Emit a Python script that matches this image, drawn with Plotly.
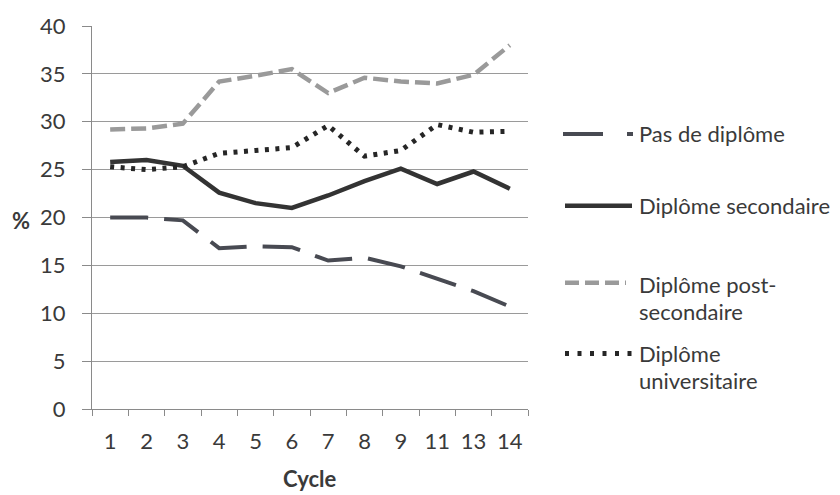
import plotly.graph_objects as go

cycles = ["1", "2", "3", "4", "5", "6", "7", "8", "9", "11", "13", "14"]
pas_de_diplome = [20.0, 20.0, 19.7, 16.8, 17.0, 16.9, 15.5, 15.8, 14.9, 13.6, 12.3, 10.7]
diplome_secondaire = [25.8, 26.0, 25.4, 22.6, 21.5, 21.0, 22.3, 23.8, 25.1, 23.5, 24.8, 23.0]
diplome_post_secondaire = [29.2, 29.3, 29.8, 34.2, 34.8, 35.5, 33.0, 34.6, 34.2, 34.0, 34.9, 38.0]
diplome_universitaire = [25.3, 25.0, 25.3, 26.7, 27.0, 27.3, 29.6, 26.4, 27.0, 29.7, 28.9, 29.0]
y_ticks = [0, 5, 10, 15, 20, 25, 30, 35, 40]
legend_lines = [["Pas de diplôme"], ["Diplôme secondaire"],
                ["Diplôme post-", "secondaire"], ["Diplôme", "universitaire"]]

FONT = "Lato, 'Open Sans', sans-serif"
TXT = "#3a3a3a"

series = [
    (pas_de_diplome, "#484a52", 4, "38px,16px", "40px,24px"),
    (diplome_secondaire, "#333333", 4.5, "solid", "solid"),
    (diplome_post_secondaire, "#9a9a9a", 4.5, "15px,6px", "14px,6px"),
    (diplome_universitaire, "#262626", 5, "4px,6.5px", "4px,8.5px"),
]

fig = go.Figure()
for (vals, color, w, dash, _), lines in zip(series, legend_lines):
    fig.add_trace(go.Scatter(
        x=cycles, y=vals, mode="lines", name=" ".join(lines), showlegend=False,
        line=dict(color=color, width=w, dash=dash),
    ))

L, R, T, B = 92, 312, 15, 86
W, H = 840, 495
pw, ph = W - L - R, H - T - B

def px(xp):
    return (xp - L) / pw

def py(yp):
    return (H - B - yp) / ph

# legend (custom, drawn in paper coordinates)
legend_pos = [
    # sample y, text line y centres, sample x0, x1
    (126, [126], 563, 633),
    (200, [200], 565, 632),
    (279, [281, 309], 565, 626),
    (352, [352, 380], 565, 634),
]
for (vals, color, w, dash, sdash), lines, (sy, tys, x0, x1) in zip(series, legend_lines, legend_pos):
    fig.add_shape(type="line", xref="paper", yref="paper",
                  x0=px(x0), x1=px(x1), y0=py(sy), y1=py(sy),
                  line=dict(color=color, width=w, dash=sdash))
    for txt, ty in zip(lines, tys):
        fig.add_annotation(xref="paper", yref="paper", x=px(637), y=py(ty),
                           text=txt, showarrow=False, xanchor="left", yanchor="middle",
                           align="left", font=dict(family=FONT, size=22, color=TXT))

fig.add_annotation(xref="paper", yref="paper", x=px(21), y=py(215), text="<b>%</b>",
                   showarrow=False, xanchor="center", yanchor="middle",
                   font=dict(family=FONT, size=22, color=TXT))
fig.add_annotation(xref="paper", yref="paper", x=px(310), y=py(480), text="<b>Cycle</b>",
                   showarrow=False, xanchor="center", yanchor="middle",
                   font=dict(family=FONT, size=22, color=TXT))

fig.update_layout(
    width=W, height=H,
    margin=dict(l=L, r=R, t=T, b=B, pad=0),
    paper_bgcolor="white", plot_bgcolor="white",
    font=dict(family=FONT, size=22, color=TXT),
    showlegend=False,
)
fig.update_xaxes(
    type="category", tickson="boundaries", ticks="outside", ticklen=6,
    tickcolor="#8a8a8a", tickwidth=1, showline=True, linecolor="#8a8a8a", linewidth=1,
    showgrid=False, ticklabelstandoff=13, range=[-0.5, 11.5],
    tickfont=dict(family=FONT, size=22, color=TXT),
)
fig.update_yaxes(
    range=[0, 40], tickvals=y_ticks, ticks="outside", ticklen=9, tickcolor="#8a8a8a",
    showline=True, linecolor="#8a8a8a", linewidth=1,
    showgrid=True, gridcolor="#9a9a9a", gridwidth=1, zeroline=False,
    ticklabelstandoff=12, tickfont=dict(family=FONT, size=22, color=TXT),
)

fig.write_html("out.html")
